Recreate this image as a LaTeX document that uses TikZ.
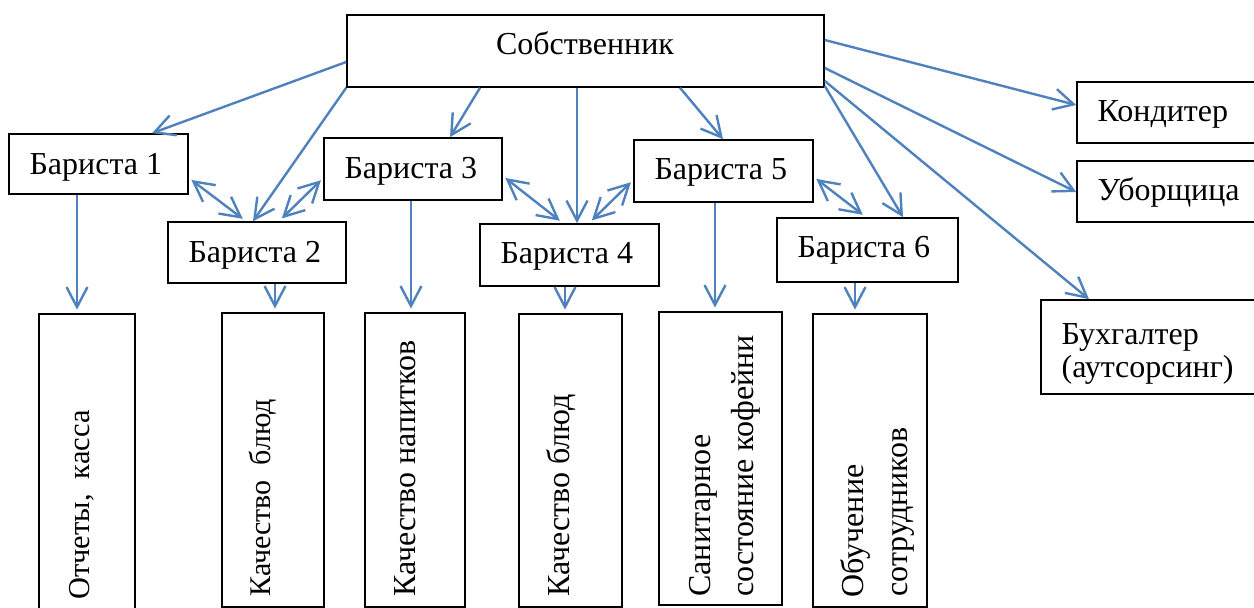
\documentclass[tikz,border=0pt]{standalone}
\usepackage{fontspec}
\setmainfont{Liberation Serif}
\usetikzlibrary{arrows.meta,fit}
\definecolor{arrowblue}{RGB}{79,129,189}
\begin{document}
\begin{tikzpicture}[x=0.5pt,y=-0.5pt,
  box/.style={draw=black, line width=0.8pt, inner sep=0pt},
  lbl/.style={font=\fontsize{16}{19}\selectfont, inner sep=0pt, anchor=base west},
  vlbl/.style={lbl, rotate=90},
  tipV/.tip={Straight Barb[length=10pt,width=10.5pt,line width=1.2pt]},
  conn/.style={draw=arrowblue, line width=1.2pt, -tipV},
  down/.style={conn, shorten >=1.8pt},
  both/.style={draw=arrowblue, line width=1.2pt, tipV-tipV, shorten <=1.6pt, shorten >=2pt}
]
\useasboundingbox (0,0) rectangle (1254,608);

% top
\node[box, fit={(347,15) (824,87)}] (own) {};
\node[lbl, anchor=base] (ownT) at (585,55) {Собственник};

% baristas
\node[box, fit={(9,134) (188,194)}] (b1) {};
\node[box, fit={(168,222) (346,283)}] (b2) {};
\node[box, fit={(324,138) (502,200)}] (b3) {};
\node[box, fit={(480,224) (659,286)}] (b4) {};
\node[box, fit={(634,140) (813,202)}] (b5) {};
\node[box, fit={(777,218) (958,282)}] (b6) {};
\node[lbl] (b1T) at ([xshift=10.5pt,yshift=-20.5pt]b1.north west) {Бариста 1};
\node[lbl] (b2T) at ([xshift=10.5pt,yshift=-20.5pt]b2.north west) {Бариста 2};
\node[lbl] (b3T) at ([xshift=10.5pt,yshift=-20.5pt]b3.north west) {Бариста 3};
\node[lbl] (b4T) at ([xshift=10.5pt,yshift=-20pt]b4.north west) {Бариста 4};
\node[lbl] (b5T) at ([xshift=10.5pt,yshift=-20pt]b5.north west) {Бариста 5};
\node[lbl] (b6T) at ([xshift=10.5pt,yshift=-20pt]b6.north west) {Бариста 6};

% right column
\node[box, fit={(1077,82) (1264,143)}] (kond) {};
\node[box, fit={(1077,161) (1264,222)}] (ubor) {};
\node[box, fit={(1041,300) (1264,394)}] (buh) {};
\node[lbl] (kondT) at ([xshift=10.5pt,yshift=-20pt]kond.north west) {Кондитер};
\node[lbl] (uborT) at ([xshift=10.5pt,yshift=-20pt]ubor.north west) {Уборщица};
\node[lbl] (buhT1) at ([xshift=10.5pt,yshift=-22.5pt]buh.north west) {Бухгалтер};
\node[lbl] (buhT2) at ([xshift=10.5pt,yshift=-39pt]buh.north west) {(аутсорсинг)};

% task boxes
\node[box, fit={(39,314) (135,625)}] (t1) {};
\node[box, fit={(222,313) (324,607)}] (t2) {};
\node[box, fit={(365,313) (465,607)}] (t3) {};
\node[box, fit={(519,314) (622,607)}] (t4) {};
\node[box, fit={(659,312) (782,605)}] (t5) {};
\node[box, fit={(813,314) (927,607)}] (t6) {};
\node[vlbl, font=\fontsize{15.2}{18}\selectfont] (t1T) at (90,600) {Отчеты,\ \ касса};
\node[vlbl, font=\fontsize{15}{18}\selectfont] (t2T) at (270,597) {Качество\ \ блюд};
\node[vlbl] (t3T) at (415,597) {Качество напитков};
\node[vlbl] (t4T) at (569,597) {Качество блюд};
\node[vlbl] (t5T1) at (710,597) {Санитарное};
\node[vlbl] (t5T2) at (753,597) {состояние кофейни};
\node[vlbl] (t6T1) at (863,598) {Обучение};
\node[vlbl] (t6T2) at (907,597) {сотрудников};

% owner connectors
\draw[conn] (own.west |- 0,62) -- (b1.north -| 152,0);
\draw[conn] (own.south west) -- (b2.north -| 253,0);
\draw[conn] (own.south -| 480,0) -- (b3.north -| 450,0);
\draw[conn] (own.south -| 577,0) -- (b4.north -| 577,0);
\draw[conn] (own.south -| 680,0) -- (b5.north -| 723,0);
\draw[conn] (own.east |- 0,40) -- (kond.west |- 0,105);
\draw[conn] (own.east |- 0,68) -- (ubor.west |- 0,192);
\draw[conn] (own.east |- 0,86) -- (b6.north -| 903,0);
\draw[conn] (own.east |- 0,81) -- (buh.north -| 1089,0);

% barista links
\draw[both] (b1.east |- 0,178) -- (b2.north -| 246,0);
\draw[both] (b3.west |- 0,178) -- (b2.north -| 279,0);
\draw[both] (b3.east |- 0,176) -- (b4.north -| 563,0);
\draw[both] (b5.west |- 0,180) -- (b4.north -| 589,0);
\draw[both] (b5.east |- 0,177) -- (b6.north -| 866,0);

% down arrows
\draw[down] (b1.south -| 77,0) -- (t1.north -| 77,0);
\draw[down] (b2.south -| 275,0) -- (t2.north -| 275,0);
\draw[down] (b3.south -| 411,0) -- (t3.north -| 411,0);
\draw[down] (b4.south -| 565,0) -- (t4.north -| 565,0);
\draw[down] (b5.south -| 715,0) -- (t5.north -| 715,0);
\draw[down] (b6.south -| 855,0) -- (t6.north -| 855,0);
\end{tikzpicture}
\end{document}
